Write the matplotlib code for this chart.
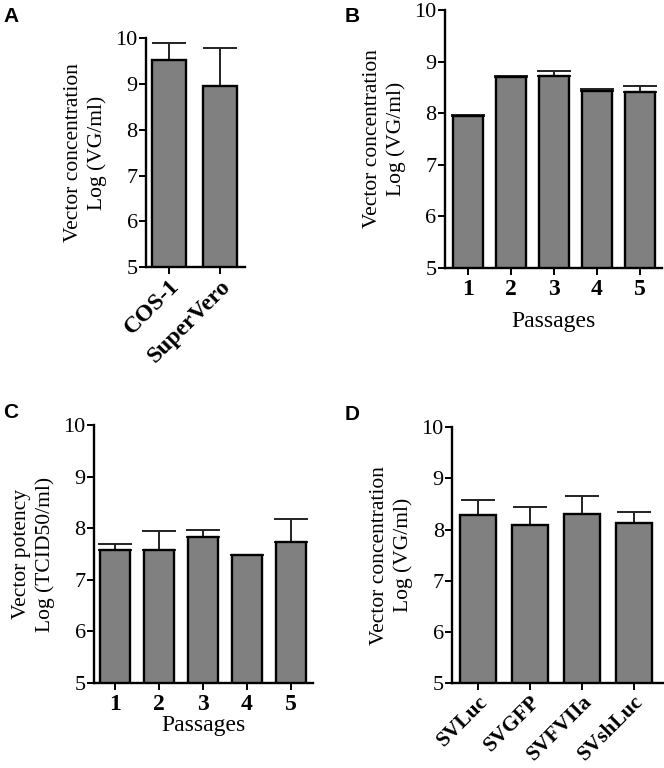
import matplotlib
matplotlib.use("Agg")
from matplotlib import pyplot as plt
import numpy as np

plt.rcParams['font.family'] = ['Liberation Serif', 'DejaVu Serif']

# A: cell lines
cells = ["COS-1", "SuperVero"]
cells_mean = [9.52, 8.96]
cells_err = [0.37, 0.84]

# B: vector concentration over passages
passages = ["1", "2", "3", "4", "5"]
conc_mean = [7.95, 8.70, 8.73, 8.43, 8.42]
conc_err = [0.02, 0.03, 0.09, 0.04, 0.10]

# C: vector potency over passages
potency_mean = [7.57, 7.57, 7.82, 7.48, 7.73]
potency_err = [0.13, 0.38, 0.14, 0.0, 0.44]

# D: different vectors
vectors = ["SVLuc", "SVGFP", "SVFVIIa", "SVshLuc"]
vec_mean = [8.28, 8.08, 8.31, 8.12]
vec_err = [0.29, 0.36, 0.35, 0.23]

bar_color = '#808080'


def panel(rect, labels, means, errs, ylabel, width, xlim, rotate, xlabel=None, labelpad=4, xsize=17):
    ax = fig.add_axes(rect)
    x = np.arange(len(labels))
    ax.bar(x, means, width=width, color=bar_color, edgecolor='black', linewidth=1.7, zorder=2)
    ax.errorbar(x, means, yerr=[np.zeros(len(errs)), errs], fmt='none', ecolor='#222222',
                elinewidth=1.4, capsize=12, capthick=1.4, zorder=1)
    ax.set_ylim(5, 10)
    ax.set_xlim(*xlim)
    ax.set_yticks([5, 6, 7, 8, 9, 10])
    ax.set_xticks(x)
    for s in ['top', 'right']:
        ax.spines[s].set_visible(False)
    for s in ['left', 'bottom']:
        ax.spines[s].set_linewidth(1.7)
    ax.tick_params(axis='both', direction='out', length=5, width=1.4, pad=1)
    ax.tick_params(axis='y', labelsize=16)
    if rotate:
        ax.set_xticklabels(labels, rotation=45, ha='right', rotation_mode='anchor',
                           fontsize=xsize, fontweight='bold')
        ax.tick_params(axis='x', pad=1)
    else:
        ax.set_xticklabels(labels, fontsize=xsize, fontweight='bold')
        ax.tick_params(axis='x', pad=3)
    ax.set_ylabel(ylabel, fontsize=15.5, linespacing=1.3, labelpad=6)
    if xlabel:
        ax.set_xlabel(xlabel, fontsize=17, labelpad=labelpad)
    return ax


fig = plt.figure(figsize=(6.64, 7.68), dpi=100)

panel([0.220, 0.652, 0.149, 0.298], cells, cells_mean, cells_err,
      "Vector concentration\nLog (VG/ml)", 0.67, (-0.45, 1.49), True)
panel([0.670, 0.651, 0.327, 0.336], passages, conc_mean, conc_err,
      "Vector concentration\nLog (VG/ml)", 0.70, (-0.53, 4.51), False, "Passages", 8)
panel([0.1416, 0.1107, 0.3294, 0.336], passages, potency_mean, potency_err,
      "Vector potency\nLog (TCID50/ml)", 0.68, (-0.48, 4.5), False, "Passages", 0)
panel([0.681, 0.1107, 0.317, 0.333], vectors, vec_mean, vec_err,
      "Vector concentration\nLog (VG/ml)", 0.69, (-0.5, 3.56), True, xsize=15.5)

for lbl, (px, py) in zip("ABCD", [(3, 22), (345, 22), (3, 418), (345, 420)]):
    fig.text(px / 664, 1 - py / 768, lbl, fontsize=15, fontweight='bold',
             family=['Liberation Sans', 'DejaVu Sans'], ha='left', va='baseline')

fig.savefig("out.png", dpi=100)
